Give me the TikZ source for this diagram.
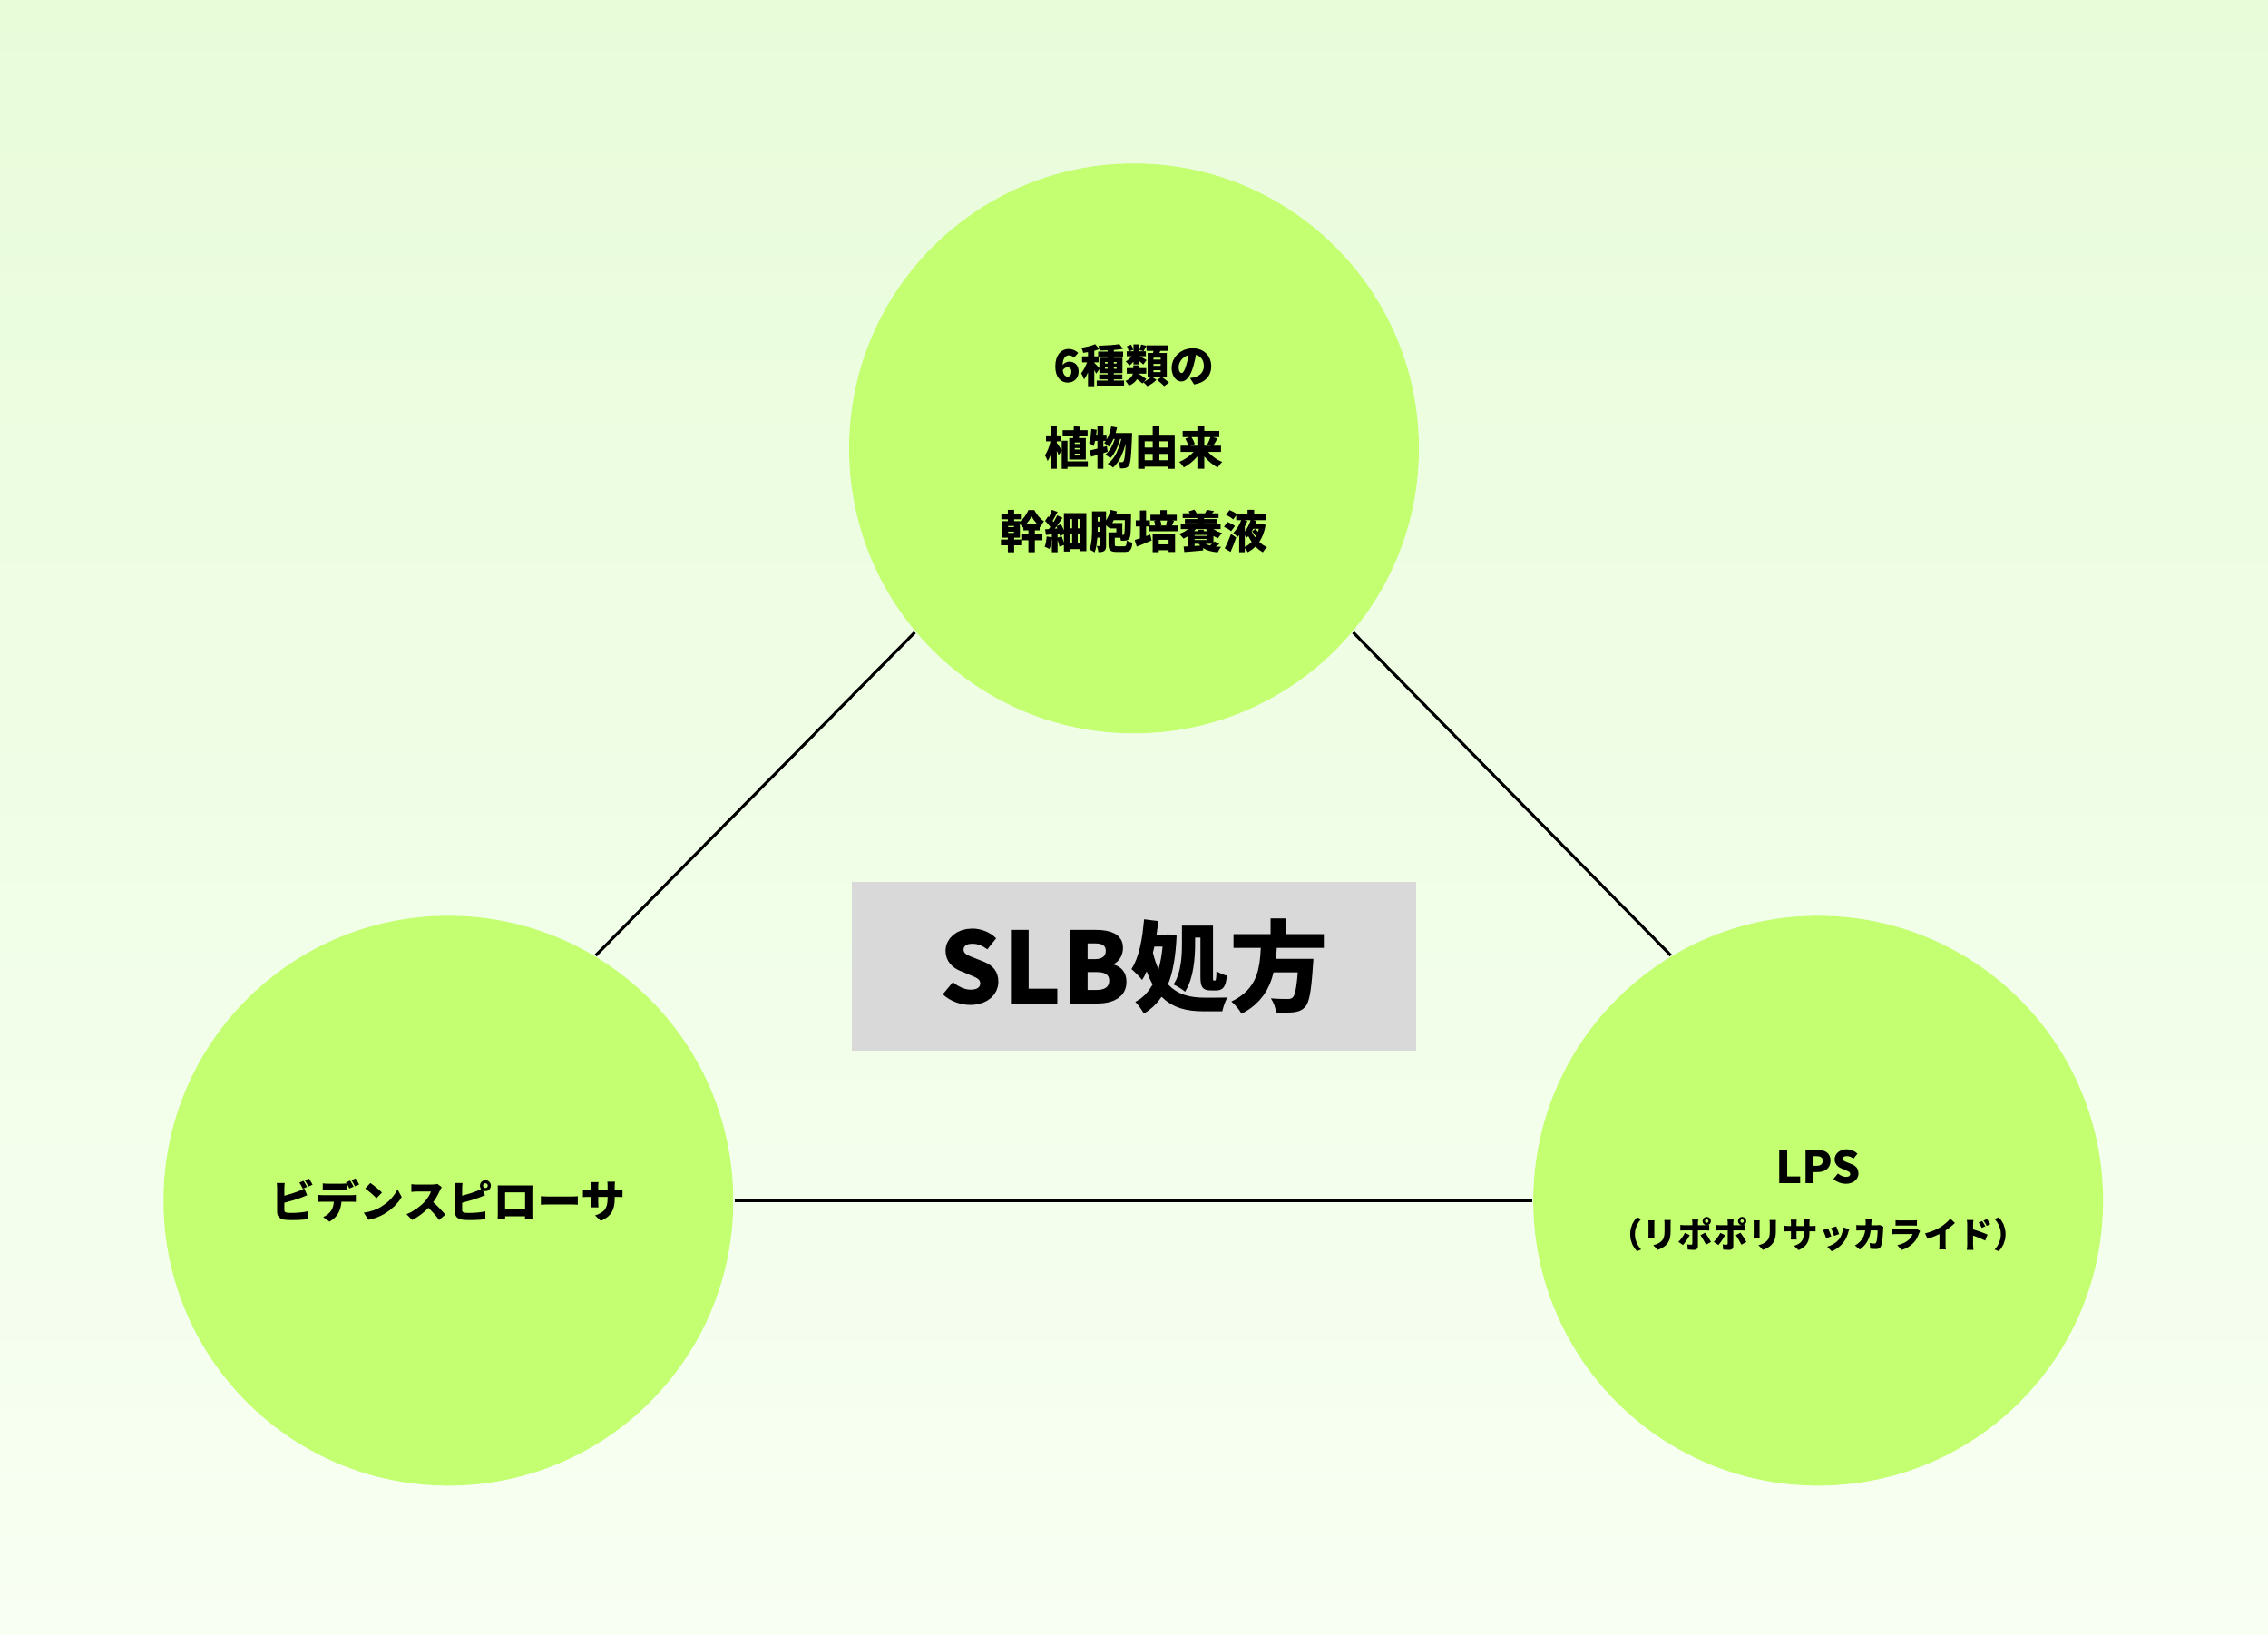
\documentclass[tikz,border=0pt]{standalone}
\usepackage{fontspec}
\setmainfont{Noto Sans CJK JP}[BoldFont={Noto Sans CJK JP Black}]
\usetikzlibrary{positioning}

\begin{document}
\begin{tikzpicture}[x=0.01594cm,y=-0.01594cm,thick,
	main node/.style={circle,fill=lime,minimum size=6.28cm,inner sep=0pt,align=center,font=\bfseries\fontsize{14}{26}\selectfont}]
	
	\definecolor{lime}{RGB}{195,255,112}
	\definecolor{bgtop}{RGB}{232,252,218}
	\definecolor{bgbot}{RGB}{248,255,243}
	\definecolor{boxgray}{RGB}{217,217,217}
	
	\shade[top color=bgtop,bottom color=bgbot] (0,0) rectangle (1568,1130);
	\useasboundingbox (0,0) rectangle (1568,1130);
	
	\node[main node] (plant) at (784,310) {6種類の\\植物由来\\幹細胞培養液};
	\node[main node] (bidens) at (310,830) {ビデンスピローサ};
	\node[main node] (lps) at (1257,830) {LPS\\[-6pt]{\fontsize{11}{14}\selectfont （リポポリサッカライド）}};
	\node[fill=boxgray,minimum width=6.23cm,minimum height=1.86cm,font=\bfseries\fontsize{31}{31}\selectfont] (slb) at (784,668) {SLB処方};
	
	\path[draw=black,line width=0.9pt]
	(plant.220) edge (bidens.59)
	(plant.320) edge (lps.121)
	(bidens.east) edge (lps.west);
\end{tikzpicture}
\end{document}
